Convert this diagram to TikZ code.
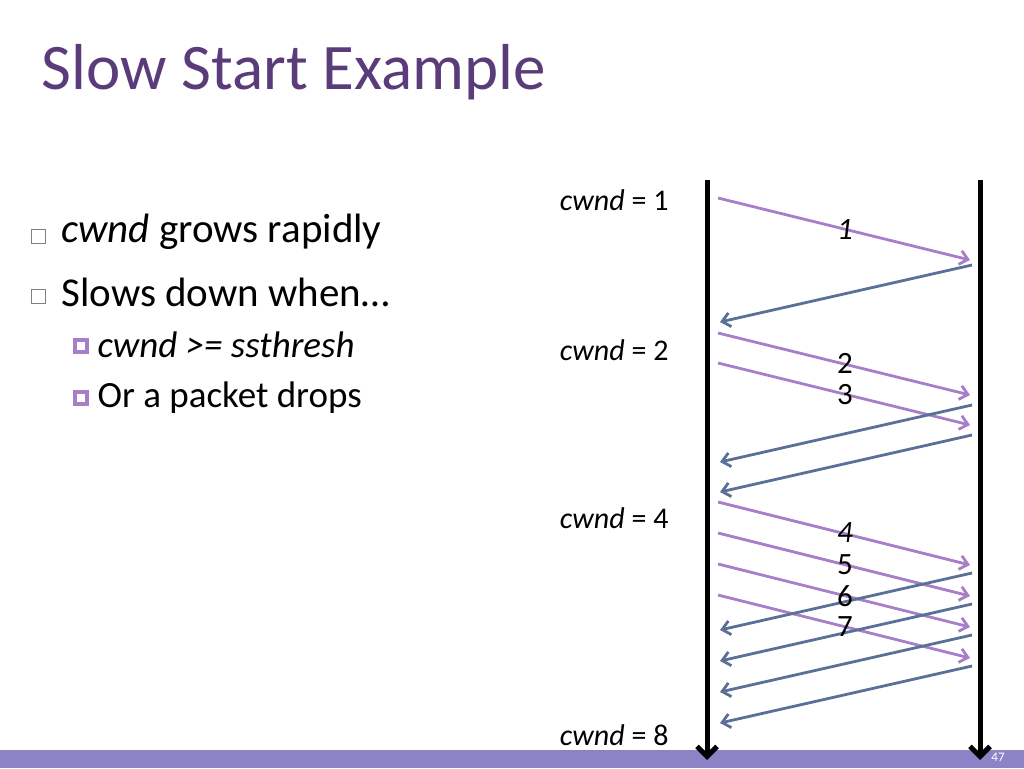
\documentclass[tikz,border=0pt]{standalone}
\usepackage{fontspec}
\setmainfont{Carlito}
\usetikzlibrary{arrows.meta}
\definecolor{ttl}{HTML}{5B3C7A}
\definecolor{pk}{HTML}{A77FC9}
\definecolor{ak}{HTML}{5B7096}
\definecolor{bar}{HTML}{8A84C6}
\begin{document}
\begin{tikzpicture}[x=1pt,y=-1pt,
 pkt/.style={pk,line width=2.8pt,-{Straight Barb[length=8pt,width=14pt]}},
 ack/.style={ak,line width=2.8pt,-{Straight Barb[length=8pt,width=14pt]}},
 tl/.style={line width=5pt,-{Straight Barb[length=10pt,width=20pt]}},
 cw/.style={anchor=east,font=\fontsize{30}{34}\selectfont},
 num/.style={font=\fontsize{31}{34}\selectfont}]
\useasboundingbox (0,0) rectangle (1024,768);
\fill[bar] (0,750) rectangle (1024,768);
\node[white,font=\fontsize{13}{14}\selectfont] (pg) at (998,757) {47};
\node[ttl,anchor=west,font=\fontsize{65}{70}\selectfont] (t) at (38,72) {Slow Start Example};
\draw[gray,line width=0.8pt] (31,229) rectangle (45,243);
\draw[gray,line width=0.8pt] (31,289) rectangle (45,303);
\node[anchor=west,font=\fontsize{41}{46}\selectfont] (b1) at (58,232) {\textit{cwnd} grows rapidly};
\node[anchor=west,font=\fontsize{41}{46}\selectfont] (b2) at (58,292) {Slows down when…};
\foreach \y in {346,398}{\fill[pk] (73,\y-8) rectangle (89,\y+8); \fill[white] (77,\y-4) rectangle (85,\y+4);}
\node[anchor=west,font=\fontsize{37}{40}\selectfont] (s1) at (94,345) {\textit{cwnd >= ssthresh}};
\node[anchor=west,font=\fontsize{37}{40}\selectfont] (s2) at (94,398) {Or a packet drops};
\node[cw] (c1) at (672,200) {\textit{cwnd} = 1};
\node[cw] (c2) at (672,350) {\textit{cwnd} = 2};
\node[cw] (c4) at (672,518) {\textit{cwnd} = 4};
\node[cw] (c8) at (672,735) {\textit{cwnd} = 8};
\coordinate (L0) at (707,180); \coordinate (L1) at (707,760);
\coordinate (R0) at (980,180); \coordinate (R1) at (980,760);
\draw[tl] (L0) -- (L1);
\draw[tl] (R0) -- (R1);
\foreach \a/\b in {198/260,333/395,363/425,502/565,533/596,564/627,595/658}
 \draw[pkt] (718,\a) -- (970,\b);
\foreach \a/\b in {265/322,405/462,435/492,573/630,604/661,635/692,666/723}
 \draw[ack] (972,\a) -- (720,\b);
\node[num] (n1) at (845,230) {\textit{1}};
\node[num] (n2) at (845,363) {2};
\node[num] (n3) at (845,395) {3};
\node[num] (n4) at (845,533) {\textit{4}};
\node[num] (n5) at (845,565) {5};
\node[num] (n6) at (845,596) {6};
\node[num] (n7) at (845,627) {7};
\end{tikzpicture}
\end{document}
